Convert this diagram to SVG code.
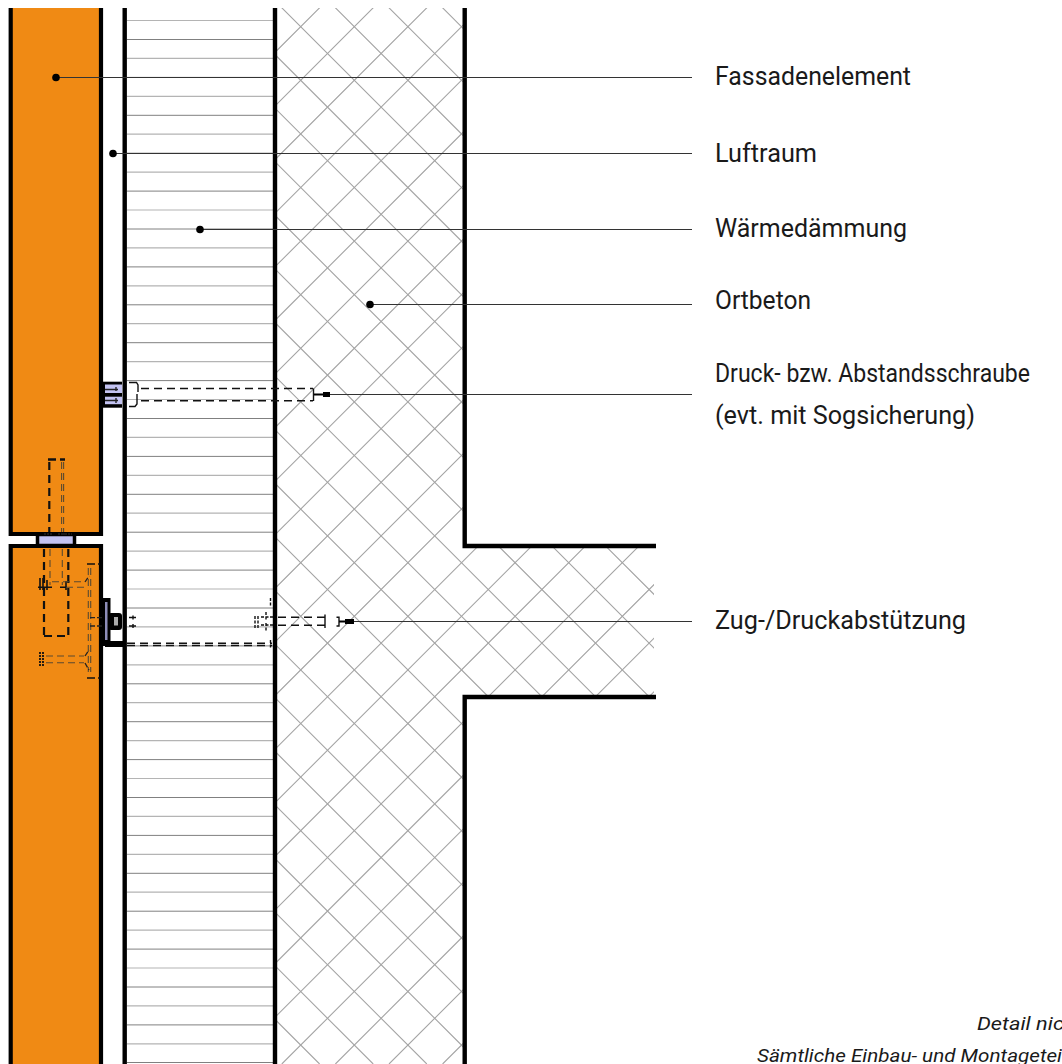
<svg xmlns="http://www.w3.org/2000/svg" width="1062" height="1064" viewBox="0 0 1062 1064">
<style>
.lbl{font-family:"Roboto","Liberation Sans",sans-serif;font-size:25px;fill:#1a1a1a}
.note{font-family:"Roboto","Liberation Sans",sans-serif;font-size:19px;font-style:italic;fill:#1a1a1a}
.wall{fill:none;stroke:#000;stroke-width:4.4}
.hatch{fill:none;stroke:#a4a4a4;stroke-width:1.1}
.ins1{stroke:#808080;stroke-width:1}
.ins2{stroke:#b4b4b4;stroke-width:1.2}
.lead{fill:none;stroke:#333;stroke-width:1.1}
.dot{fill:#000}
.d1{fill:none;stroke:#111;stroke-width:1.4;stroke-dasharray:8 5}
.d2{fill:none;stroke:#111;stroke-width:2.2;stroke-dasharray:8 5}
.d3{fill:none;stroke:#5a4a30;stroke-width:1.1;stroke-dasharray:7 4}
.t{fill:none;stroke:#111;stroke-width:1.4}
</style>
<defs>
<clipPath id="pageClip"><rect x="0" y="8" width="1062" height="1056"/></clipPath>
<clipPath id="concreteClip"><path d="M277 8H464V546H654V697H464V1064H277Z"/></clipPath>
</defs>
<rect width="1062" height="1064" fill="#fff"/>
<g id="section" clip-path="url(#pageClip)">
<g id="ortbeton" clip-path="url(#concreteClip)">
<path class="hatch" d="M327.4 0l-1064 1064M381 0l-1064 1064M434.6 0l-1064 1064M488.2 0l-1064 1064M541.8 0l-1064 1064M595.4 0l-1064 1064M649 0l-1064 1064M702.6 0l-1064 1064M756.2 0l-1064 1064M809.8 0l-1064 1064M863.4 0l-1064 1064M917 0l-1064 1064M970.6 0l-1064 1064M1024.2 0l-1064 1064M1077.8 0l-1064 1064M1131.4 0l-1064 1064M1185 0l-1064 1064M1238.6 0l-1064 1064M1292.2 0l-1064 1064M1345.8 0l-1064 1064M1399.4 0l-1064 1064M1453 0l-1064 1064M1506.6 0l-1064 1064M1560.2 0l-1064 1064M1613.8 0l-1064 1064M1667.4 0l-1064 1064M1721 0l-1064 1064"/>
<path class="hatch" d="M595.6 0l1064 1064M542 0l1064 1064M488.4 0l1064 1064M434.8 0l1064 1064M381.2 0l1064 1064M327.6 0l1064 1064M274 0l1064 1064M220.4 0l1064 1064M166.8 0l1064 1064M113.2 0l1064 1064M59.6 0l1064 1064M6 0l1064 1064M-47.6 0l1064 1064M-101.2 0l1064 1064M-154.8 0l1064 1064M-208.4 0l1064 1064M-262 0l1064 1064M-315.6 0l1064 1064M-369.2 0l1064 1064M-422.8 0l1064 1064M-476.4 0l1064 1064M-530 0l1064 1064M-583.6 0l1064 1064M-637.2 0l1064 1064M-690.8 0l1064 1064M-744.4 0l1064 1064M-798 0l1064 1064"/>
</g>
<g id="waermedaemmung">
<path class="ins2" d="M127 20.5H274M127 58.4H274M127 96.3H274M127 134.2H274M127 172.1H274M127 210H274M127 247.9H274M127 285.8H274M127 323.7H274M127 361.6H274M127 399.5H274M127 437.4H274M127 475.3H274M127 513.2H274M127 551.1H274M127 589H274M127 626.9H274M127 664.8H274M127 702.7H274M127 740.6H274M127 778.5H274M127 816.4H274M127 854.3H274M127 892.2H274M127 930.1H274M127 968H274M127 1005.9H274M127 1043.8H274"/>
<path class="ins1" d="M127 39.5H274M127 115.3H274M127 191.1H274M127 266.9H274M127 342.7H274M127 418.5H274M127 494.3H274M127 570.1H274M127 645.9H274M127 721.7H274M127 797.5H274M127 873.3H274M127 949.1H274M127 1024.9H274M127 1062.5H274"/>
<path class="ins1" d="M127 77.4H274M127 153.2H274M127 229H274M127 304.8H274M127 380.6H274M127 456.4H274M127 532.2H274M127 608H274M127 683.8H274M127 759.6H274M127 835.4H274M127 911.2H274M127 987H274"/>
</g>
<g id="fassadenelement">
<path d="M10.7 0V534H101V0Z" fill="#f08a14" stroke="#000" stroke-width="4.2"/>
<path d="M10.7 1070V546H101V1070Z" fill="#f08a14" stroke="#000" stroke-width="4.2"/>
<rect x="37.5" y="534.5" width="37" height="11" fill="#c3c3f2" stroke="#000" stroke-width="3.5"/>
</g>
<g id="waende">
<path class="wall" d="M124.7 0V1070"/>
<path class="wall" d="M275 0V1070"/>
<path class="wall" d="M464.7 0V546H656"/>
<path class="wall" d="M656 697H464.7V1070"/>
</g>
<g id="abstandsschraube">
<rect x="103" y="381.7" width="19" height="26" fill="#000"/>
<rect x="105" y="384.5" width="17" height="8.5" fill="#c3c3f2"/>
<rect x="105" y="396.7" width="17" height="7.5" fill="#c3c3f2"/>
<path d="M105 389.5H112M105 400.5H112M116 387V391M116 398V403M112 389.5H118M112 400.5H118" stroke="#222" stroke-width="1.4" fill="none"/>
<path class="t" d="M129 382.5H136.5L138 385V392M137 394V404L135 406.5H129"/>
<path class="d1" d="M141 388.5H313M141 400.7H313"/>
<path class="t" d="M313.5 388.5V401" stroke-width="1.8"/>
</g>
<g id="fugenanker">
<path class="d2" d="M49.3 462V532"/>
<path class="d3" d="M61.6 462V532M63.6 462V532"/>
<path d="M48 459.5H56M60 459.5H65" stroke="#111" stroke-width="2.4" fill="none"/>
<path d="M44 534H52M58 534H66M62 534H72" stroke="#333" stroke-width="1.2" stroke-dasharray="2 1" fill="none"/>
<path class="d2" d="M44 549V636M68.3 549V636"/>
<path class="d2" d="M44 636H68.3" stroke-dasharray="11 3"/>
<path class="d3" d="M50 549V585M62.3 549V585"/>
<path d="M40 578V590M43 578V590M47 580V590M66 581V590M38 587.3H52M60 587.3H67" stroke="#111" stroke-width="1.6" fill="none"/>
<path class="d3" d="M52 581.7H85M66 587.3H84"/>
<path class="d3" d="M88.3 568V672M90.7 568V672"/>
<path d="M87 564H95M98 564H100M87 678H95M98 678H100" stroke="#111" stroke-width="1.5" fill="none"/>
<path d="M90 617.7H103M90 626H103M85 582L89 576M85 656L89 650M85 663L89 670" stroke="#222" stroke-width="1.3" fill="none" stroke-dasharray="5 2"/>
<path class="d3" d="M46 656H84M46 662.7H84"/>
<path d="M40 652V666M43 652V666" stroke="#111" stroke-width="1.8" fill="none" stroke-dasharray="2 1"/>
</g>
<g id="konsole">
<rect x="103" y="598" width="7.5" height="48" fill="#000"/>
<rect x="105" y="602" width="2.5" height="38" fill="#8d8db8"/>
<rect x="105" y="641" width="18" height="6" fill="#000"/>
<rect x="108" y="613" width="14" height="17" rx="3" fill="#000"/>
<rect x="114" y="617" width="4" height="8.5" fill="#aaa"/>
<path class="t" d="M129 617.5H136M129 626H136M133 615.5V619.5M133 624V628"/>
<path class="d1" d="M127 643.3H272M127 645.5H272" stroke-width="1.1"/>
<path d="M255 616V628M258 616V628M261 617H274M261 625H274M266 612V620M266 623V631M270.5 598V606M270.5 640V648" stroke="#111" stroke-width="1.4" stroke-dasharray="3 1.5" fill="none"/>
<path class="d1" d="M278 617.3H327M278 625.3H327"/>
<path class="t" d="M325 614.5V628"/>
<path class="t" d="M336.5 617.3H339V626H336.5" stroke-width="1.8"/>
</g>
<g id="connectors">
<path class="lead" d="M56 77.5H692M113 153.5H692M200 229.5H692M370 304.5H692M330 394.5H692M354 621.5H692"/>
<circle class="dot" cx="56" cy="77.5" r="3.8"/>
<circle class="dot" cx="113" cy="153.5" r="3.8"/>
<circle class="dot" cx="200" cy="229.5" r="3.8"/>
<circle class="dot" cx="370" cy="304.5" r="3.8"/>
<path d="M314 394.5H326" stroke="#000" stroke-width="2"/>
<path d="M323 392H330V397H323Z" fill="#000"/>
<path d="M339 621.5H348" stroke="#000" stroke-width="2"/>
<path d="M345 619H354V624H345Z" fill="#000"/>
</g>
</g>
<g id="labels">
<text class="lbl" x="715" y="85" textLength="196" lengthAdjust="spacingAndGlyphs">Fassadenelement</text>
<text class="lbl" x="715" y="162" textLength="102" lengthAdjust="spacingAndGlyphs">Luftraum</text>
<text class="lbl" x="715" y="237" textLength="192" lengthAdjust="spacingAndGlyphs">Wärmedämmung</text>
<text class="lbl" x="715" y="309" textLength="96" lengthAdjust="spacingAndGlyphs">Ortbeton</text>
<text class="lbl" x="715" y="382" textLength="315" lengthAdjust="spacingAndGlyphs">Druck- bzw. Abstandsschraube</text>
<text class="lbl" x="715" y="424" textLength="260" lengthAdjust="spacingAndGlyphs">(evt. mit Sogsicherung)</text>
<text class="lbl" x="715" y="629" textLength="251" lengthAdjust="spacingAndGlyphs">Zug-/Druckabstützung</text>
<text class="note" x="977" y="1030" textLength="87" lengthAdjust="spacingAndGlyphs">Detail nic</text>
<text class="note" x="757" y="1062" textLength="305" lengthAdjust="spacingAndGlyphs">Sämtliche Einbau- und Montagetei</text>
</g>
</svg>
